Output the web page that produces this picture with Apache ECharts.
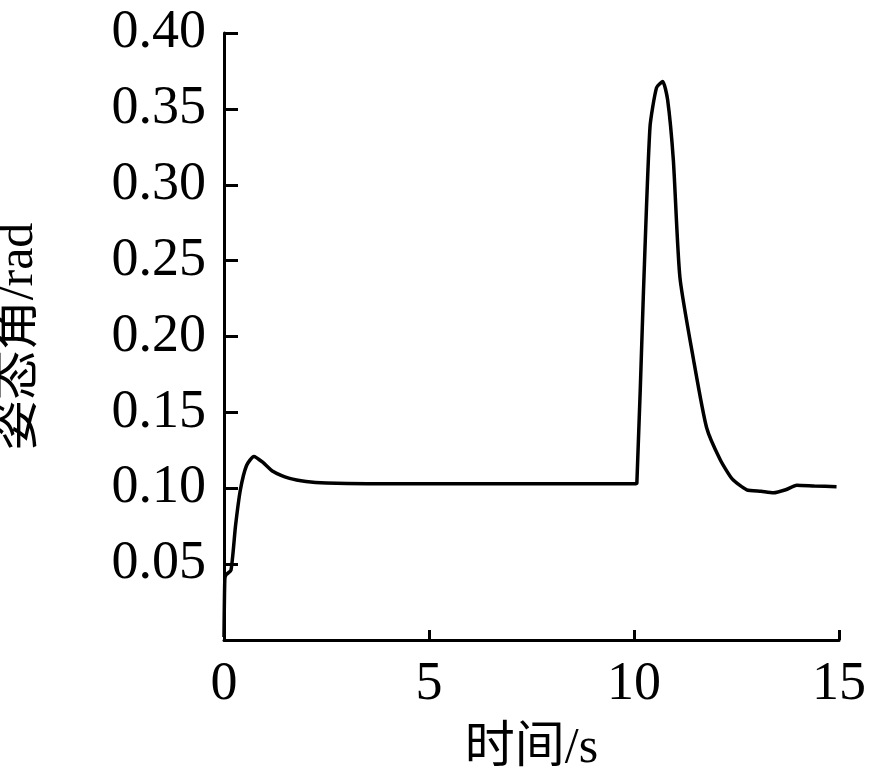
<!DOCTYPE html>
<html>
<head>
<meta charset="utf-8">
<script src="https://cdn.jsdelivr.net/npm/echarts@6/dist/echarts.min.js"></script>
<style>html,body{margin:0;background:#fff}#chart{width:871px;height:777px}</style>
</head>
<body>
<div id="chart"></div>
<script>
var timeVals = [0, 0.02, 0.05, 0.17, 0.28, 0.4, 0.55, 0.73, 0.95, 1.2, 1.6, 2.0, 2.5, 3.5, 5, 7, 9, 10.0, 10.07, 10.23, 10.39, 10.55, 10.7, 10.82, 10.96, 11.12, 11.45, 11.77, 12.1, 12.4, 12.75, 13.1, 13.4, 13.7, 13.97, 14.4, 14.94];
var angleVals = [0.002, 0.04, 0.043, 0.046, 0.075, 0.099, 0.115, 0.121, 0.117, 0.111, 0.1065, 0.1045, 0.1035, 0.103, 0.103, 0.103, 0.103, 0.103, 0.1034, 0.229, 0.338, 0.364, 0.368, 0.356, 0.316, 0.239, 0.185, 0.140, 0.119, 0.106, 0.099, 0.098, 0.097, 0.099, 0.102, 0.1015, 0.101];
var seriesData = timeVals.map(function (t, i) { return [t, angleVals[i]]; });

var chart = echarts.init(document.getElementById('chart'));
var font = '"Liberation Serif", "Noto Sans CJK SC", serif';
chart.setOption({
    animation: false,
    grid: { left: 224, right: 32, top: 33, bottom: 137, containLabel: false, outerBoundsMode: 'none' },
    xAxis: {
        type: 'value', min: 0, max: 15, interval: 5,
        name: '时间/s', nameLocation: 'middle', nameGap: 84,
        nameTextStyle: { fontFamily: font, fontSize: 50, color: '#000' },
        axisLine: { lineStyle: { color: '#000', width: 3 } },
        axisTick: { inside: true, length: 10, lineStyle: { color: '#000', width: 3 } },
        axisLabel: { fontFamily: font, fontSize: 54, color: '#000', margin: 18 },
        splitLine: { show: false }
    },
    yAxis: {
        type: 'value', min: 0, max: 0.4, interval: 0.05,
        name: '姿态角/rad', nameLocation: 'middle', nameGap: 180,
        nameTextStyle: { fontFamily: font, fontSize: 50, color: '#000' },
        axisLine: { show: true, lineStyle: { color: '#000', width: 3 } },
        axisTick: { show: true, inside: true, length: 14, lineStyle: { color: '#000', width: 3 } },
        axisLabel: {
            fontFamily: font, fontSize: 54, color: '#000', margin: 18,
            formatter: function (v) { return v === 0 ? '' : v.toFixed(2); }
        },
        splitLine: { show: false }
    },
    series: [{
        type: 'line', data: seriesData, smooth: 0.2, showSymbol: false,
        lineStyle: { color: '#000', width: 3.5 }
    }]
});
</script>
</body>
</html>
